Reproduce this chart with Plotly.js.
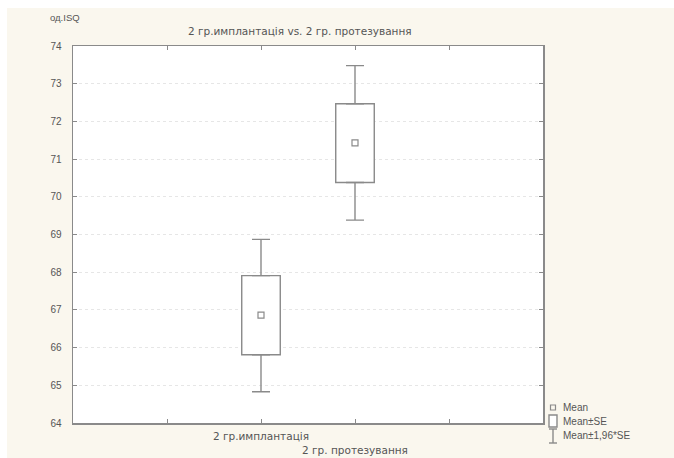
<!DOCTYPE html>
<html>
<head>
<meta charset="utf-8">
<script src="https://cdn.plot.ly/plotly-3.0.1.min.js"></script>
<style>
html,body{margin:0;padding:0;background:#ffffff;}
#chart{position:absolute;left:7px;top:8px;width:667px;height:450px;}
</style>
</head>
<body>
<div id="chart"></div>
<script>
// Data
const categories = ['2 гр.имплантація', '2 гр. протезування'];
const catPos = [2, 3];
const meanVals = [66.86, 71.43];
const seLow = [65.81, 70.38];
const seHigh = [67.91, 72.47];
const ciLow = [64.83, 69.38];
const ciHigh = [68.87, 73.48];
const yTicks = [64, 65, 66, 67, 68, 69, 70, 71, 72, 73, 74];
const legendLabels = ['Mean', 'Mean±SE', 'Mean±1,96*SE'];
const titleText = '2 гр.имплантація vs. 2 гр. протезування';
const yLabel = 'од.ISQ';

const W = 667, H = 450;
const M = {l: 66, r: 131, t: 38, b: 35};
const pw = W - M.l - M.r, ph = H - M.t - M.b;
const px = x => (x - 7 - M.l) / pw;           // page px -> paper x
const py = y => 1 - (y - 8 - M.t) / ph;       // page px -> paper y

const lineCol = '#8a8a8a';
const textCol = '#555555';
const fam = 'Liberation Sans, Arial, sans-serif';
const famWide = 'DejaVu Sans, sans-serif';

const boxTrace = {
  type: 'bar', x: catPos,
  base: seLow, y: seHigh.map((v, i) => v - seLow[i]),
  width: 0.41,
  marker: {color: '#ffffff', line: {color: lineCol, width: 1.4}},
  hoverinfo: 'skip', showlegend: false
};
const upperWhisker = {
  type: 'scatter', mode: 'markers', x: catPos, y: seHigh,
  marker: {size: 1, color: 'rgba(0,0,0,0)'},
  error_y: {type: 'data', symmetric: false, array: ciHigh.map((v, i) => v - seHigh[i]),
            arrayminus: seHigh.map(() => 0), color: lineCol, thickness: 1.4, width: 9},
  hoverinfo: 'skip', showlegend: false
};
const lowerWhisker = {
  type: 'scatter', mode: 'markers', x: catPos, y: seLow,
  marker: {size: 1, color: 'rgba(0,0,0,0)'},
  error_y: {type: 'data', symmetric: false, array: seLow.map(() => 0),
            arrayminus: seLow.map((v, i) => v - ciLow[i]), color: lineCol, thickness: 1.4, width: 9},
  hoverinfo: 'skip', showlegend: false
};
const meanTrace = {
  type: 'scatter', mode: 'markers', x: catPos, y: meanVals,
  marker: {symbol: 'square-open', size: 6, color: lineCol, line: {width: 1.2}},
  showlegend: false
};

const shapes = [
  {type: 'rect', xref: 'paper', yref: 'paper', x0: px(550.5), x1: px(555.5), y0: py(410), y1: py(405),
   line: {color: lineCol, width: 1.2}, fillcolor: 'rgba(0,0,0,0)'},
  {type: 'rect', xref: 'paper', yref: 'paper', x0: px(549), x1: px(557), y0: py(427), y1: py(415),
   line: {color: lineCol, width: 1.4}, fillcolor: '#ffffff'},
  {type: 'line', xref: 'paper', yref: 'paper', x0: px(553), x1: px(553), y0: py(443), y1: py(429),
   line: {color: lineCol, width: 1.4}},
  {type: 'line', xref: 'paper', yref: 'paper', x0: px(549), x1: px(557), y0: py(443), y1: py(443),
   line: {color: lineCol, width: 1.4}},
  {type: 'line', xref: 'paper', yref: 'paper', x0: px(549), x1: px(557), y0: py(429), y1: py(429),
   line: {color: lineCol, width: 1.4}}
];

const legY = [407.5, 421, 435.5];
const annotations = legendLabels.map((t, i) => ({
  text: t, xref: 'paper', yref: 'paper', x: px(561), y: py(legY[i]),
  xanchor: 'left', yanchor: 'middle', showarrow: false,
  font: {family: fam, size: 10, color: textCol}
}));
annotations.push({
  text: titleText, xref: 'paper', yref: 'paper', x: px(300), y: py(31),
  xanchor: 'center', yanchor: 'middle', showarrow: false,
  font: {family: famWide, size: 10.5, color: textCol}
});
annotations.push({
  text: yLabel, xref: 'paper', yref: 'paper', x: px(48), y: py(17),
  xanchor: 'left', yanchor: 'middle', showarrow: false,
  font: {family: fam, size: 9.5, color: textCol}
});

const layout = {
  width: W, height: H,
  margin: M,
  paper_bgcolor: '#faf7ee',
  plot_bgcolor: '#ffffff',
  font: {family: fam, size: 10, color: textCol},
  showlegend: false,
  bargap: 0,
  xaxis: {
    range: [0, 5], tickmode: 'array', tickvals: [1, 2, 3, 4],
    ticktext: ['', categories[0], '<br>' + categories[1], ''],
    tickangle: 0,
    ticks: 'inside', ticklen: 4, tickcolor: lineCol, tickwidth: 1,
    showline: true, linecolor: lineCol, linewidth: 1.5, mirror: 'ticks',
    showgrid: false, zeroline: false, fixedrange: true,
    ticklabelstandoff: 3,
    tickfont: {family: famWide, size: 10.5, color: textCol}
  },
  yaxis: {
    range: [64, 74], tickmode: 'array', tickvals: yTicks,
    ticks: 'inside', ticklen: 4, tickcolor: lineCol, tickwidth: 1,
    showline: true, linecolor: lineCol, linewidth: 1.5, mirror: 'ticks',
    showgrid: true, gridcolor: '#e6e6e6', griddash: 'dot', gridwidth: 1,
    zeroline: false, fixedrange: true,
    ticklabelstandoff: 8,
    tickfont: {family: fam, size: 10, color: textCol}
  },
  shapes: shapes,
  annotations: annotations
};

Plotly.newPlot('chart', [boxTrace, upperWhisker, lowerWhisker, meanTrace], layout,
  {displayModeBar: false, staticPlot: true});
</script>
</body>
</html>
